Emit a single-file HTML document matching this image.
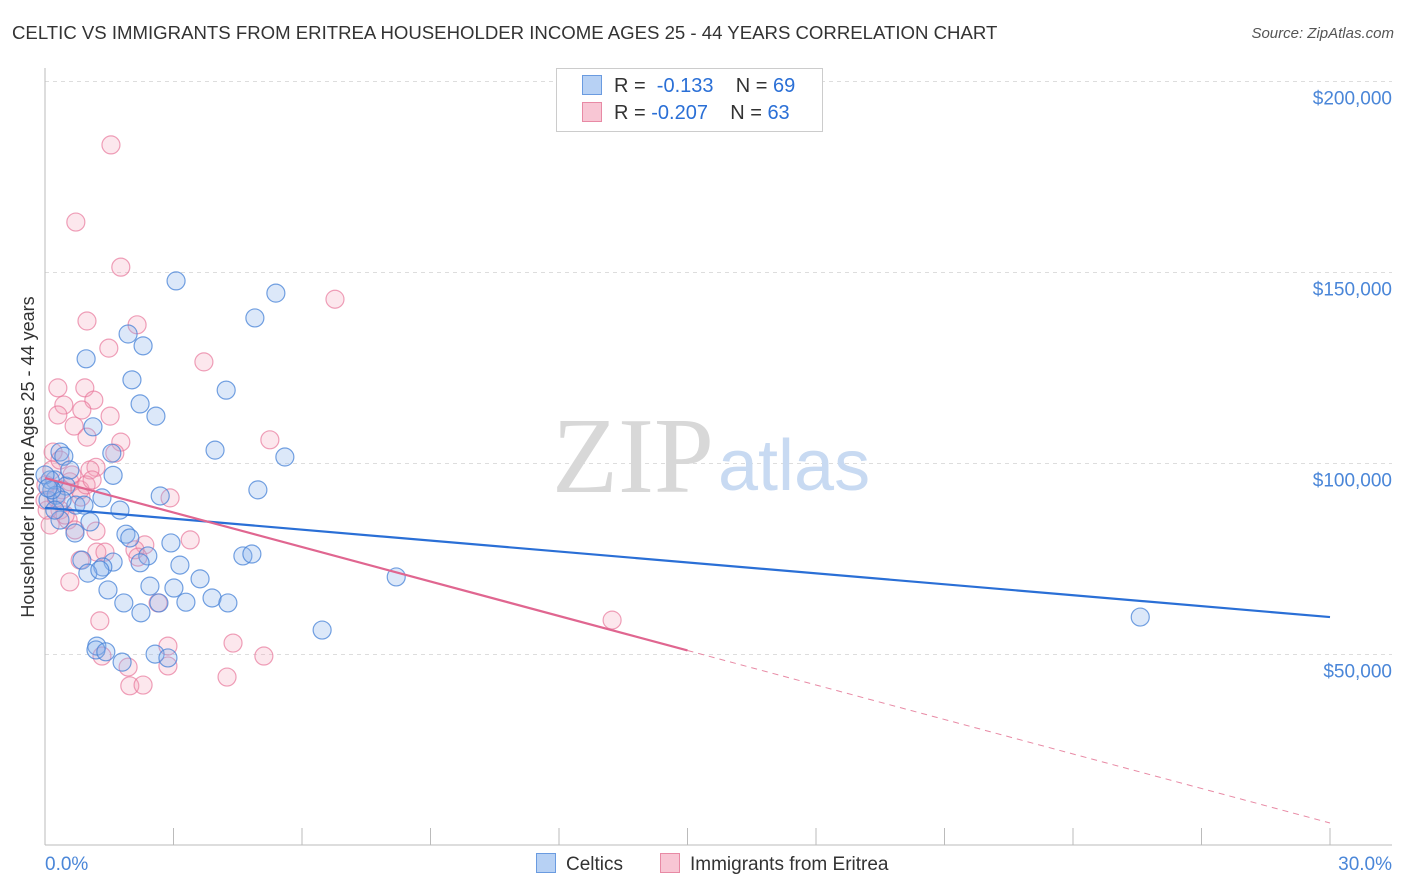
<!DOCTYPE html>
<html><head><meta charset="utf-8"><style>
body{margin:0;background:#fff;font-family:"Liberation Sans",sans-serif;}
#wrap{position:relative;width:1406px;height:892px;overflow:hidden;}
.t{position:absolute;white-space:nowrap;}
</style></head><body>
<div id="wrap">
<div class="t" style="left:12px;top:22px;font-size:18.6px;color:#333;">CELTIC VS IMMIGRANTS FROM ERITREA HOUSEHOLDER INCOME AGES 25 - 44 YEARS CORRELATION CHART</div>
<div class="t" style="right:12px;top:25px;font-size:15px;color:#555;font-style:italic;">Source: ZipAtlas.com</div>
<svg id="svg" width="1406" height="892" style="position:absolute;left:0;top:0"></svg>
</div>
<script>
const yTicks=[50000,100000,150000,200000];
const yTickLabels=["$50,000","$100,000","$150,000","$200,000"];
const xTickLabels=["0.0%","30.0%"];
const celticX=[3.06,5.39,4.90,1.94,2.29,0.96,2.03,2.22,4.23,2.59,1.12,3.97,5.60,0.35,0.44,1.56,1.59,4.97,2.69,1.33,0.23,0.49,0.72,1.75,1.05,1.89,1.98,0.70,0.86,2.94,2.40,2.22,4.62,4.83,1.59,1.35,1.00,1.28,3.15,3.62,2.45,3.01,1.47,1.84,3.29,3.90,4.27,2.66,2.24,6.47,8.20,25.57,1.21,1.19,1.42,1.80,2.57,2.87,0.12,0.07,0.26,0.58,0.40,0.0,0.16,0.35,0.91,0.07,0.23];
const celticY=[147.8,144.6,138.1,133.9,130.8,127.4,121.9,115.6,119.2,112.4,109.6,103.5,101.7,103.0,101.9,102.7,96.9,93.1,91.5,91.0,95.7,94.1,89.1,87.8,84.7,81.5,80.5,81.8,74.7,79.2,75.8,74.0,75.8,76.3,74.2,72.9,71.3,72.1,73.4,69.8,67.9,67.4,66.9,63.5,63.7,64.8,63.5,63.5,60.9,56.4,70.3,59.8,52.2,51.2,50.7,48.0,50.1,49.1,95.7,90.4,91.7,98.3,90.4,97.0,93.1,85.2,89.1,93.6,87.8];
const eritX=[1.54,0.72,1.77,6.77,0.98,2.15,1.49,3.71,0.30,0.93,0.44,1.14,0.30,0.86,1.52,0.68,1.77,0.98,0.19,5.25,1.19,1.05,1.63,0.58,0.84,2.92,0.35,0.54,0.12,0.70,1.19,3.39,2.33,1.21,1.40,2.10,0.82,2.17,0.58,1.28,4.39,2.87,5.11,1.33,1.94,2.87,1.98,2.29,4.25,13.24,0.05,0.16,0,0.26,0.40,0.82,0.63,0.47,0.96,0.02,0.35,2.64,1.10];
const eritY=[183.4,163.2,151.4,143.0,137.3,136.3,130.2,126.6,119.8,119.8,115.3,116.6,112.7,114.0,112.4,109.8,105.6,106.9,103.0,106.2,99.0,98.3,102.7,95.2,91.2,91.0,87.8,85.2,83.9,82.6,82.3,80.0,78.7,76.8,76.8,77.4,74.7,75.5,69.0,58.8,53.0,52.2,49.6,49.6,46.7,47.0,41.8,42.0,44.1,59.0,87.8,98.3,90.4,91.0,93.1,93.1,97.0,86.5,94.4,94.4,100.9,63.5,95.7];
const celticTrend=[88.4,59.8];
const eritTrend=[96.2,5.9];
const eritSolidEnd=15;

const X0=45,X1=1330,Y0=845.5,PPK=3.82;
const sx=p=>X0+(X1-X0)*p/30;
const sy=k=>Y0-k*PPK;
const NS="http://www.w3.org/2000/svg";
const svg=document.getElementById('svg');
function mk(tag,attrs,name){const e=document.createElementNS(NS,tag);for(const k in attrs)e.setAttribute(k,attrs[k]);


svg.appendChild(e);return e;}
yTicks.forEach((v,i)=>{const y=sy(v/1000);
mk('line',{x1:X0,x2:1392,y1:y,y2:y,stroke:'#ddd','stroke-dasharray':'4,4'},'gridline');
const t=mk('text',{x:1392,y:y+23,'text-anchor':'end','font-size':19,fill:'#4a86d8','font-family':'Liberation Sans'},'y-tick-label');t.textContent=yTickLabels[i];});
mk('line',{x1:X0,x2:X0,y1:68,y2:845,stroke:'#bbb'},'y-axis');
mk('line',{x1:X0,x2:1392,y1:845,y2:845,stroke:'#bbb'},'x-axis');
for(let i=0;i<=10;i++){const x=sx(i*3);mk('line',{x1:x,x2:x,y1:828,y2:845,stroke:'#bbb'},'x-tick');}
let tx=mk('text',{x:45,y:870,'font-size':19,fill:'#4a86d8','font-family':'Liberation Sans'},'x-tick-label');tx.textContent=xTickLabels[0];
tx=mk('text',{x:1392,y:870,'text-anchor':'end','font-size':19,fill:'#4a86d8','font-family':'Liberation Sans'},'x-tick-label');tx.textContent=xTickLabels[1];
let yl=mk('text',{x:0,y:0,transform:'translate(34,457) rotate(-90)','text-anchor':'middle','font-size':18,fill:'#333','font-family':'Liberation Sans'},'y-axis-title');yl.textContent='Householder Income Ages 25 - 44 years';
let w=mk('text',{x:714,y:492,'text-anchor':'end','font-size':108,fill:'#d8d8d8','font-family':'Liberation Serif'},'watermark-zip');w.textContent='ZIP';
w=mk('text',{x:718,y:490,'font-size':72,fill:'#c8daf2','font-family':'Liberation Sans'},'watermark-atlas');w.textContent='atlas';
eritX.forEach((x,i)=>mk('circle',{cx:sx(x),cy:sy(eritY[i]),r:9,fill:'rgba(244,160,185,0.25)',stroke:'rgba(232,120,155,0.7)','stroke-width':1.2},'eritrea-point'));
celticX.forEach((x,i)=>mk('circle',{cx:sx(x),cy:sy(celticY[i]),r:9,fill:'rgba(140,180,235,0.3)',stroke:'rgba(70,130,215,0.75)','stroke-width':1.2},'celtic-point'));
mk('line',{x1:sx(0),y1:sy(celticTrend[0]),x2:sx(30),y2:sy(celticTrend[1]),stroke:'#2a6fd6','stroke-width':2.2},'celtic-trend-line');
const ey=p=>eritTrend[0]+(eritTrend[1]-eritTrend[0])*p/30;
mk('line',{x1:sx(0),y1:sy(ey(0)),x2:sx(eritSolidEnd),y2:sy(ey(eritSolidEnd)),stroke:'#e06690','stroke-width':2.2},'eritrea-trend-line');
mk('line',{x1:sx(eritSolidEnd),y1:sy(ey(eritSolidEnd)),x2:sx(30),y2:sy(ey(30)),stroke:'#e88aa5','stroke-width':1,'stroke-dasharray':'6,5'},'eritrea-trend-extension');
</script>
<div class="t" style="left:556px;top:68px;width:265px;height:62px;border:1px solid #ccc;background:#fff;"></div>
<div class="t" style="left:582px;top:75px;font-size:20px;color:#333;"><span style="display:inline-block;width:18px;height:18px;background:#b7d1f4;border:1px solid #6a9be0;vertical-align:-3px;margin-right:12px"></span>R = &nbsp;<span style="color:#2a6fd6">-0.133</span>&nbsp;&nbsp;&nbsp; N = <span style="color:#2a6fd6">69</span></div>
<div class="t" style="left:582px;top:102px;font-size:20px;color:#333;"><span style="display:inline-block;width:18px;height:18px;background:#f8c6d4;border:1px solid #e88aa5;vertical-align:-3px;margin-right:12px"></span>R = <span style="color:#2a6fd6">-0.207</span>&nbsp;&nbsp;&nbsp; N = <span style="color:#2a6fd6">63</span></div>
<div class="t" style="left:536px;top:853px;font-size:19px;color:#333;"><span style="display:inline-block;width:18px;height:18px;background:#b7d1f4;border:1px solid #6a9be0;vertical-align:-3px;margin-right:10px"></span>Celtics</div>
<div class="t" style="left:660px;top:853px;font-size:19px;color:#333;"><span style="display:inline-block;width:18px;height:18px;background:#f8c6d4;border:1px solid #e88aa5;vertical-align:-3px;margin-right:10px"></span>Immigrants from Eritrea</div>
</body></html>
